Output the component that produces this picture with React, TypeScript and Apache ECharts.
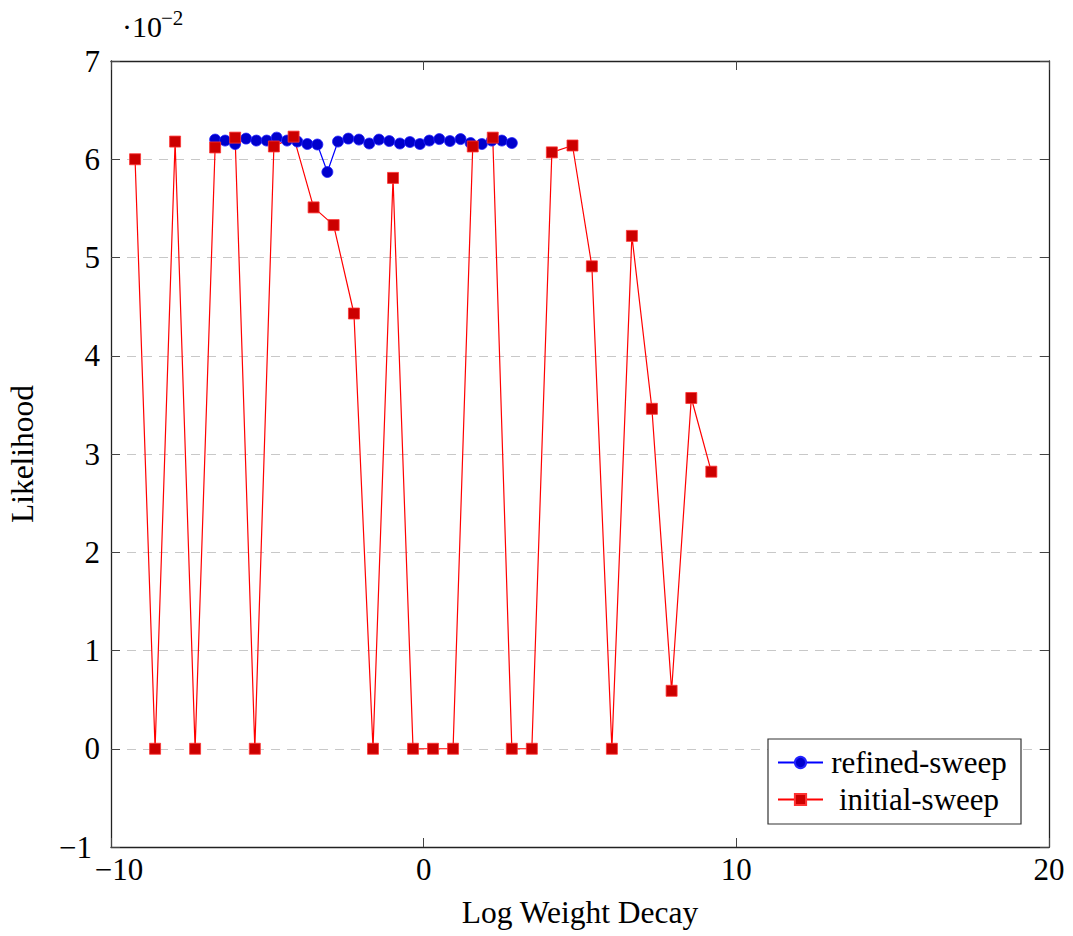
import React, { useEffect, useRef } from "react";
import * as echarts from "echarts";

// Likelihood values are in units of 10^-2 (see the "·10^-2" multiplier above the y axis)
const refinedX = [
  -6.67, -6.35, -6.03, -5.68, -5.35, -5.02, -4.7, -4.37, -4.04, -3.72,
  -3.4, -3.08, -2.74, -2.41, -2.07, -1.74, -1.43, -1.1, -0.76, -0.44,
  -0.12, 0.18, 0.5, 0.84, 1.18, 1.5, 1.86, 2.18, 2.5, 2.82,
];
const refinedY = [
  6.2, 6.19, 6.155, 6.21, 6.19, 6.19, 6.22, 6.19, 6.18, 6.155,
  6.15, 5.87, 6.18, 6.21, 6.2, 6.16, 6.2, 6.185, 6.16, 6.175,
  6.155, 6.19, 6.205, 6.185, 6.205, 6.165, 6.155, 6.19, 6.19, 6.165,
];
const initialX = [
  -9.23, -8.59, -7.95, -7.31, -6.67, -6.03, -5.4, -4.79, -4.16, -3.52,
  -2.88, -2.23, -1.62, -0.98, -0.34, 0.3, 0.94, 1.57, 2.21, 2.82,
  3.46, 4.1, 4.76, 5.38, 6.02, 6.66, 7.3, 7.93, 8.56, 9.2,
];
const initialY = [
  6.0, 0, 6.18, 0, 6.12, 6.22, 0, 6.13, 6.23, 5.51,
  5.33, 4.43, 0, 5.81, 0, 0, 0, 6.13, 6.22, 0,
  0, 6.07, 6.14, 4.91, 0, 5.22, 3.46, 0.59, 3.57, 2.82,
];
const seriesNames = ["refined-sweep", "initial-sweep"];
const xTicks = { min: -10, max: 20, interval: 10 };
const yTicks = { min: -1, max: 7, interval: 1 };
const xLabel = "Log Weight Decay";
const yLabel = "Likelihood";
const multiplierBase = "·10";
const multiplierExp = "−2";

const FONT = '"Liberation Serif", "Times New Roman", serif';
const fmt = (v: number) => (v < 0 ? "\u2212" + Math.abs(v) : String(v));
const tickText = { fontSize: 31, lineHeight: 20, fontFamily: FONT, color: "#000" };

export default function App() {
  const ref = useRef<HTMLDivElement>(null);
  useEffect(() => {
    if (!ref.current) return;
    const chart = echarts.init(ref.current, undefined, { renderer: "svg" });
    const axisLine = { show: true, onZero: false, lineStyle: { color: "#222", width: 1.3 } };
    const axisTick = { show: true, inside: true, length: 9, lineStyle: { color: "#444", width: 1 } };
    chart.setOption({
      animation: false,
      backgroundColor: "#fff",
      grid: { left: 111, top: 61, width: 938, height: 786, containLabel: false, outerBoundsMode: "none" },
      xAxis: [
        {
          type: "value",
          position: "bottom",
          ...xTicks,
          axisLine,
          axisTick,
          splitLine: { show: false },
          axisLabel: {
            margin: 12,
            ...tickText,
            formatter: (v: number) => (v === xTicks.min ? `{e|${fmt(v)}}` : fmt(v)),
            rich: { e: { ...tickText, padding: [0, 0, 0, 16] } },
          },
          name: xLabel,
          nameLocation: "middle",
          nameGap: 49,
          nameTextStyle: { fontSize: 31.5, fontFamily: FONT, color: "#000" },
        },
        {
          type: "value",
          position: "top",
          ...xTicks,
          axisLine,
          axisTick,
          splitLine: { show: false },
          axisLabel: { show: false },
        },
      ],
      yAxis: [
        {
          type: "value",
          position: "left",
          ...yTicks,
          axisLine,
          axisTick,
          splitLine: { show: true, lineStyle: { color: "#c8c8c8", width: 1.2, type: [9, 7] } },
          axisLabel: {
            margin: 11,
            ...tickText,
            formatter: (v: number) => (v === yTicks.min ? `{e|${fmt(v)}}` : fmt(v)),
            rich: { e: { ...tickText, padding: [0, 8, 0, 0] } },
          },
          name: yLabel,
          nameLocation: "middle",
          nameGap: 73,
          nameRotate: 90,
          nameTextStyle: { fontSize: 31.5, fontFamily: FONT, color: "#000" },
        },
        {
          type: "value",
          position: "right",
          ...yTicks,
          axisLine,
          axisTick,
          splitLine: { show: false },
          axisLabel: { show: false },
        },
      ],
      legend: {
        orient: "vertical",
        left: 768,
        top: 739,
        padding: [8, 11, 9, 9],
        itemGap: 6,
        itemWidth: 45,
        itemHeight: 14,
        borderColor: "#333",
        borderWidth: 1.2,
        backgroundColor: "#fff",
        data: seriesNames,
        formatter: (name: string) => `{c|${name}}`,
        textStyle: {
          fontFamily: FONT,
          fontSize: 31,
          color: "#000",
          rich: { c: { width: 182, align: "center", fontSize: 31, fontFamily: FONT, lineHeight: 30, color: "#000" } },
        },
      },
      graphic: [
        {
          type: "text",
          x: 122,
          y: 26,
          style: { text: multiplierBase, fontSize: 30, fontFamily: FONT, fill: "#000", verticalAlign: "middle", align: "left" },
        },
        {
          type: "text",
          x: 161,
          y: 18,
          style: { text: multiplierExp, fontSize: 21, fontFamily: FONT, fill: "#000", verticalAlign: "middle", align: "left" },
        },
      ],
      series: [
        {
          type: "line",
          name: seriesNames[0],
          data: refinedX.map((x, i) => [x, refinedY[i]]),
          symbol: "circle",
          symbolSize: 11,
          showSymbol: true,
          lineStyle: { color: "#0000ff", width: 1.2 },
          itemStyle: { color: "#0000cc", borderColor: "#2222ff", borderWidth: 0.8 },
        },
        {
          type: "line",
          name: seriesNames[1],
          data: initialX.map((x, i) => [x, initialY[i]]),
          symbol: "rect",
          symbolSize: 11,
          showSymbol: true,
          lineStyle: { color: "#ff0000", width: 1.2 },
          itemStyle: { color: "#cc0000", borderColor: "#ff3333", borderWidth: 0.8 },
        },
      ],
    });
    return () => chart.dispose();
  }, []);
  return <div ref={ref} style={{ position: "fixed", left: 0, top: 0, width: 1073, height: 936 }} />;
}
